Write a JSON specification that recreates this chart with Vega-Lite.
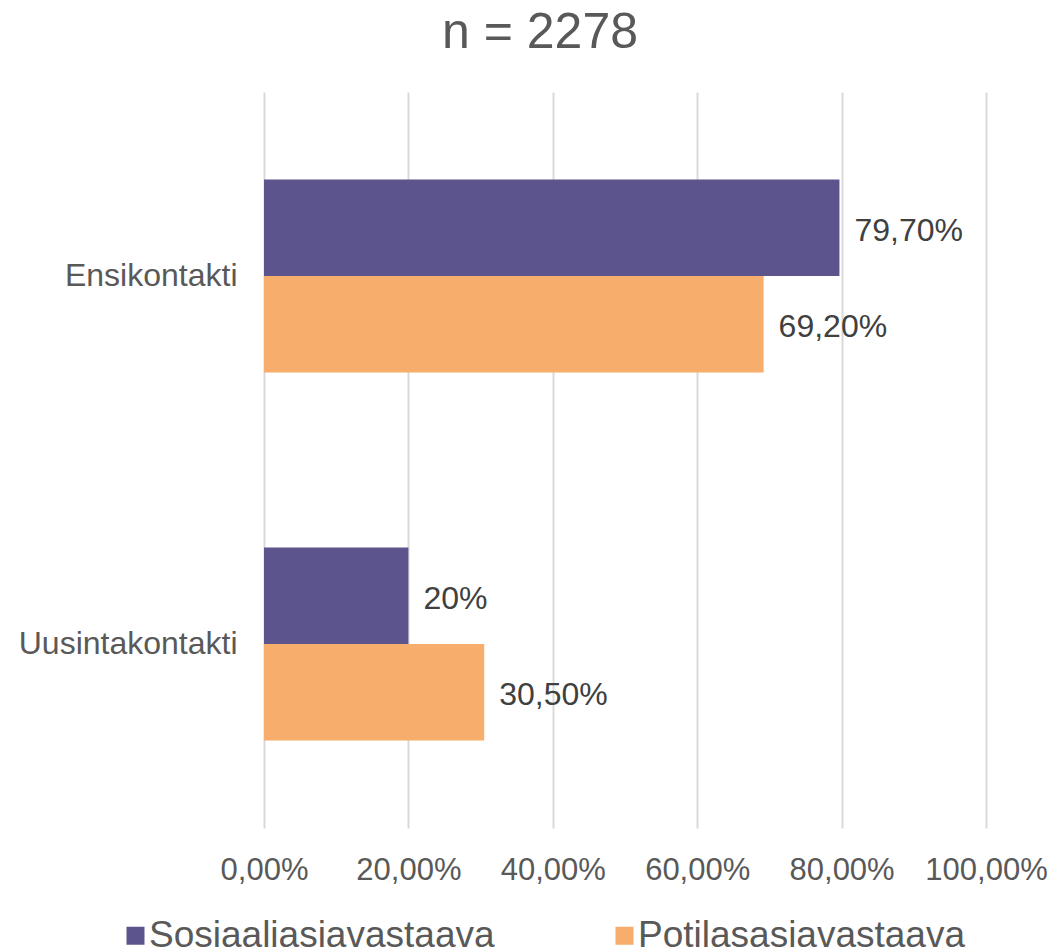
{
  "$schema": "https://vega.github.io/schema/vega-lite/v6.json",
  "width": 722,
  "height": 736,
  "autosize": "none",
  "padding": {"left": 264, "top": 92, "right": 67, "bottom": 121},
  "background": "white",
  "config": {
    "font": "Liberation Sans",
    "view": {"stroke": null}
  },
  "title": {
    "text": "n = 2278",
    "fontSize": 50,
    "fontWeight": "normal",
    "color": "#595959",
    "anchor": "start",
    "frame": "group",
    "dx": 178,
    "baseline": "alphabetic",
    "offset": -6
  },
  "data": {
    "values": [
      {"kontakti": "Ensikontakti", "sarja": "Sosiaaliasiavastaava", "arvo": 0.797, "teksti": "79,70%"},
      {"kontakti": "Ensikontakti", "sarja": "Potilasasiavastaava", "arvo": 0.692, "teksti": "69,20%"},
      {"kontakti": "Uusintakontakti", "sarja": "Sosiaaliasiavastaava", "arvo": 0.20, "teksti": "20%"},
      {"kontakti": "Uusintakontakti", "sarja": "Potilasasiavastaava", "arvo": 0.305, "teksti": "30,50%"}
    ]
  },
  "encoding": {
    "y": {
      "field": "kontakti",
      "type": "nominal",
      "sort": ["Ensikontakti", "Uusintakontakti"],
      "scale": {"paddingInner": 0.475, "paddingOuter": 0.2375},
      "axis": {
        "title": null,
        "domain": false,
        "ticks": false,
        "labelFontSize": 32,
        "labelColor": "#595959",
        "labelPadding": 27,
        "labelLimit": 400
      }
    },
    "yOffset": {
      "field": "sarja",
      "type": "nominal",
      "sort": ["Sosiaaliasiavastaava", "Potilasasiavastaava"]
    },
    "x": {
      "field": "arvo",
      "type": "quantitative",
      "scale": {"domain": [0, 1], "nice": false},
      "axis": {
        "title": null,
        "values": [0, 0.2, 0.4, 0.6, 0.8, 1],
        "labelExpr": "replace(format(datum.value, '.2%'), '.', ',')",
        "domain": false,
        "ticks": false,
        "grid": true,
        "gridColor": "#d9d9d9",
        "gridWidth": 2,
        "labelFontSize": 31,
        "labelColor": "#595959",
        "labelPadding": 27,
        "labelFlush": false
      }
    }
  },
  "layer": [
    {
      "mark": {"type": "bar"},
      "encoding": {
        "color": {
          "field": "sarja",
          "type": "nominal",
          "sort": ["Sosiaaliasiavastaava", "Potilasasiavastaava"],
          "scale": {
            "domain": ["Sosiaaliasiavastaava", "Potilasasiavastaava"],
            "range": ["#5c548c", "#f7ad6b"]
          },
          "legend": {
            "title": null,
            "orient": "none",
            "legendX": -147,
            "legendY": 825,
            "direction": "horizontal",
            "columns": 2,
            "columnPadding": 111,
            "symbolType": "square",
            "symbolSize": 324,
            "symbolStrokeWidth": 0,
            "labelFontSize": 37,
            "labelColor": "#595959",
            "labelOffset": -5,
            "labelLimit": 600,
            "padding": 0
          }
        }
      }
    },
    {
      "mark": {"type": "text", "align": "left", "baseline": "middle", "dx": 15, "dy": 3, "fontSize": 32, "color": "#404040"},
      "encoding": {
        "text": {"field": "teksti", "type": "nominal"}
      }
    }
  ]
}
